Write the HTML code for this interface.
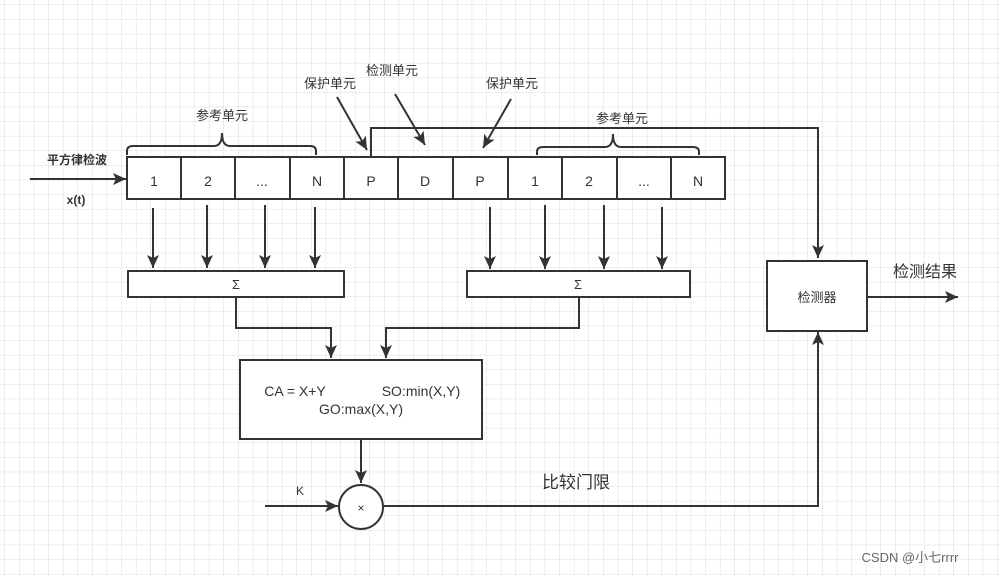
<!DOCTYPE html>
<html><head><meta charset="utf-8"><style>
body{margin:0;width:1000px;height:576px;overflow:hidden;background:#fff;}
</style></head><body>
<svg width="1000" height="576" xmlns="http://www.w3.org/2000/svg" font-family="Liberation Sans, Noto Sans CJK SC, sans-serif">
<defs>
<pattern id="g" width="14.6" height="14.6" patternUnits="userSpaceOnUse" x="5" y="5">
<path d="M14.6 0V14.6H0" fill="none" stroke="#dcdcdc" stroke-width="1"/>
</pattern>
<marker id="a" markerWidth="14" markerHeight="12" refX="13" refY="6" orient="auto" markerUnits="userSpaceOnUse">
<path d="M0 0L13 6L0 12L3 6Z" fill="#333"/>
</marker>
</defs>
<rect width="1000" height="576" fill="url(#g)"/>
<g stroke="#333" stroke-width="2" fill="none">
<rect x="127" y="157" width="598" height="42" fill="#fff"/>
<path d="M181 157V199M235 157V199M290 157V199M344 157V199M398 157V199M453 157V199M508 157V199M562 157V199M617 157V199M671 157V199"/>
<path d="M127 155V151Q127 146 133 146H214Q222 146 222 133Q222 146 230 146H310Q316 146 316 151V155"/>
<path d="M537 155V152Q537 147 543 147H605Q613 147 613 134Q613 147 621 147H693Q699 147 699 152V155"/>
<path d="M371 157V128H818V258" marker-end="url(#a)"/>
<rect x="767" y="261" width="100" height="70" fill="#fff"/>
<path d="M867 297H958" marker-end="url(#a)"/>
<path d="M337 97L367 150" marker-end="url(#a)"/>
<path d="M395 94L425 145" marker-end="url(#a)"/>
<path d="M511 99L483 148" marker-end="url(#a)"/>
<path d="M30 179H126" marker-end="url(#a)"/>
<path d="M153 208V268" marker-end="url(#a)"/>
<path d="M207 205V268" marker-end="url(#a)"/>
<path d="M265 205V268" marker-end="url(#a)"/>
<path d="M315 207V268" marker-end="url(#a)"/>
<path d="M490 207V269" marker-end="url(#a)"/>
<path d="M545 205V269" marker-end="url(#a)"/>
<path d="M604 205V269" marker-end="url(#a)"/>
<path d="M662 207V269" marker-end="url(#a)"/>
<rect x="128" y="271" width="216" height="26" fill="#fff"/>
<rect x="467" y="271" width="223" height="26" fill="#fff"/>
<path d="M236 297V328H331V358" marker-end="url(#a)"/>
<path d="M579 297V328H386V358" marker-end="url(#a)"/>
<rect x="240" y="360" width="242" height="79" fill="#fff"/>
<path d="M361 439V483" marker-end="url(#a)"/>
<circle cx="361" cy="507" r="22" fill="#fff"/>
<path d="M265 506H338" marker-end="url(#a)"/>
<path d="M383 506H818V332" marker-end="url(#a)"/>
</g>
<g fill="#333" font-size="14" text-anchor="middle">
<text x="154" y="186">1</text><text x="208" y="186">2</text><text x="262" y="186">...</text><text x="317" y="186">N</text>
<text x="371" y="186">P</text><text x="425" y="186">D</text><text x="480" y="186">P</text>
<text x="535" y="186">1</text><text x="589" y="186">2</text><text x="644" y="186">...</text><text x="698" y="186">N</text>
<text x="236" y="289" font-size="13">Σ</text><text x="578" y="289" font-size="13">Σ</text>
<text x="222" y="120" font-size="13">参考单元</text>
<text x="622" y="123" font-size="13">参考单元</text>
<text x="330" y="88" font-size="13">保护单元</text>
<text x="392" y="75" font-size="13">检测单元</text>
<text x="512" y="88" font-size="13">保护单元</text>
<text x="77" y="164" font-size="12" font-weight="bold">平方律检波</text>
<text x="76" y="204" font-size="12" font-weight="bold">x(t)</text>
<text x="817" y="302" font-size="13">检测器</text>
<text x="925" y="277" font-size="16">检测结果</text>
<text x="295" y="396">CA = X+Y</text>
<text x="421" y="396">SO:min(X,Y)</text>
<text x="361" y="414">GO:max(X,Y)</text>
<text x="300" y="495" font-size="12">K</text>
<text x="361" y="512" font-size="12">×</text>
<text x="576" y="488" font-size="17">比较门限</text>
<text x="910" y="562" font-size="13" fill="#666">CSDN @小七rrrr</text>
</g>
</svg>
</body></html>
